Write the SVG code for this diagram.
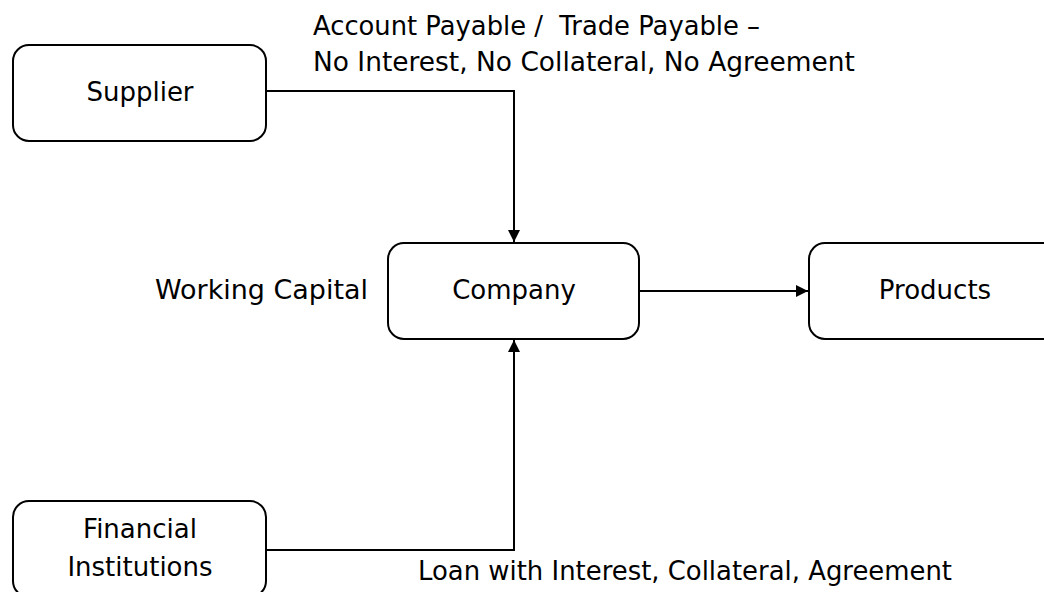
<svg xmlns="http://www.w3.org/2000/svg" width="1044" height="592" viewBox="0 0 1044 592">
<style>
.box{fill:#fff;stroke:#000;stroke-width:2}
.lbl{font-family:"DejaVu Sans",sans-serif;font-size:26px;fill:#000;white-space:pre}
.c{text-anchor:middle}
.ln{fill:none;stroke:#000;stroke-width:2}
</style>
<defs>
<marker id="ah" viewBox="0 0 10 10" refX="10" refY="5" markerWidth="6" markerHeight="6" markerUnits="strokeWidth" orient="auto">
<path d="M0,0 L10,5 L0,10 z" fill="#000"/>
</marker>
</defs>
<rect width="1044" height="592" fill="#fff"/>
<g id="connectors">
<polyline class="ln" points="266,91 514,91 514,242" marker-end="url(#ah)"/>
<polyline class="ln" points="266,550 514,550 514,340" marker-end="url(#ah)"/>
<line class="ln" x1="639" y1="291" x2="808" y2="291" marker-end="url(#ah)"/>
</g>
<g id="supplier">
<rect class="box" x="13" y="45" width="253" height="96" rx="16"/>
<text class="lbl c" x="140" y="101">Supplier</text>
</g>
<g id="company">
<rect class="box" x="388" y="243" width="251" height="96" rx="16"/>
<text class="lbl c" x="514" y="299">Company</text>
</g>
<g id="products">
<rect class="box" x="809" y="243" width="251" height="96" rx="16"/>
<text class="lbl c" x="935" y="299">Products</text>
</g>
<g id="financial">
<rect class="box" x="13" y="501" width="253" height="96" rx="16"/>
<text class="lbl c" x="140" y="538">Financial</text>
<text class="lbl c" x="140" y="576">Institutions</text>
</g>
<g id="labels">
<text class="lbl" x="313" y="35" xml:space="preserve" textLength="447" lengthAdjust="spacingAndGlyphs">Account Payable /  Trade Payable –</text>
<text class="lbl" x="313" y="71" textLength="542" lengthAdjust="spacingAndGlyphs">No Interest, No Collateral, No Agreement</text>
<text class="lbl" x="155" y="299" textLength="213" lengthAdjust="spacingAndGlyphs">Working Capital</text>
<text class="lbl" x="418" y="580" textLength="534" lengthAdjust="spacingAndGlyphs">Loan with Interest, Collateral, Agreement</text>
</g>
</svg>
